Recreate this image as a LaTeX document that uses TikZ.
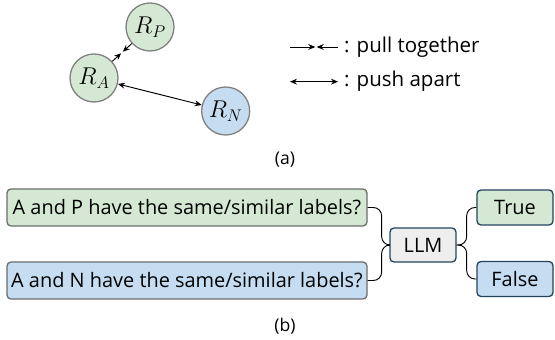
\documentclass[tikz,border=0pt]{standalone}
\usepackage{amsmath}
\usepackage{fontspec}
\usepackage{tikz}
\usepackage{xcolor}
\usetikzlibrary{arrows.meta}
\newfontfamily\labelfont{Open Sans}
\definecolor{simgreen}{HTML}{D5E8D4}
\definecolor{simblue}{HTML}{C6DCF0}
\definecolor{llmgray}{HTML}{EEEEEE}
\definecolor{darkedge}{HTML}{23445D}

\begin{document}
\begin{tikzpicture}[x=1cm,y=1cm,>={Stealth[length=6pt,width=5pt,inset=2pt]},
  rep/.style={circle,draw=gray,line width=1.1pt,minimum size=1.44cm,inner sep=0pt,font=\fontsize{21}{25}\selectfont},
  qbox/.style={draw=gray!85!black,line width=1.1pt,rounded corners=0.12cm,minimum width=10.8cm,minimum height=1.11cm,font=\labelfont\fontsize{17}{20}\selectfont},
  abox/.style={draw=darkedge,line width=1.1pt,rounded corners=0.12cm,minimum height=1.05cm,font=\labelfont\fontsize{17}{20}\selectfont},
  brace/.style={line width=0.8pt,rounded corners=0.25cm},
  txt/.style={font=\labelfont\fontsize{17.5}{20}\selectfont}]
\useasboundingbox (0,0) rectangle (16.65,10.2);
% (a) representations
\node[rep,fill=simgreen] (rp) at (4.5,9.39) {$R_P$};
\node[rep,fill=simgreen] (ra) at (2.82,7.86) {$R_A$};
\node[rep,fill=simblue] (rn) at (6.77,6.87) {$R_N$};
\coordinate (pullmid) at (3.66,8.625);
\draw[->,line width=0.8pt,shorten >=1pt] (rp) -- (pullmid);
\draw[->,line width=0.8pt,shorten >=1pt] (ra) -- (pullmid);
\draw[<->,line width=0.8pt] (ra) -- (rn);
% legend
\coordinate (pl1) at (8.7,8.79);
\coordinate (pl2) at (9.46,8.79);
\coordinate (pr1) at (10.14,8.79);
\coordinate (pr2) at (9.5,8.79);
\draw[->,line width=0.8pt] (pl1) -- (pl2);
\draw[->,line width=0.8pt] (pr1) -- (pr2);
\node[txt,anchor=west] (pulltxt) at (10.2,8.79) {: pull together};
\coordinate (ps1) at (8.7,7.75);
\coordinate (ps2) at (10.14,7.75);
\draw[<->,line width=0.8pt] (ps1) -- (ps2);
\node[txt,anchor=west] (pushtxt) at (10.2,7.75) {: push apart};
\node[txt,font=\labelfont\fontsize{15}{18}\selectfont] (capa) at (8.55,5.4) {(a)};
% (b) LLM judge
\node[qbox,fill=simgreen] (qp) at (5.61,3.975) {A and P have the same/similar labels?};
\node[qbox,fill=simblue] (qn) at (5.61,1.785) {A and N have the same/similar labels?};
\node[abox,fill=llmgray,minimum width=1.98cm,minimum height=1.02cm] (llm) at (12.69,2.85) {LLM};
\node[abox,fill=simgreen,minimum width=2.28cm] (true) at (15.45,3.975) {True};
\node[abox,fill=simblue,minimum width=2.28cm] (false) at (15.45,1.83) {False};
\coordinate (lb) at (11.45,2.85);
\coordinate (rb) at (14.0,2.85);
\draw[brace] (qp.east) -| (lb) -- (llm.west);
\draw[brace] (qn.east) -| (lb) -- (llm.west);
\draw[brace] (llm.east) -- (rb) |- (true.west);
\draw[brace] (llm.east) -- (rb) |- (false.west);
\node[txt,font=\labelfont\fontsize{15}{18}\selectfont] (capb) at (8.55,0.42) {(b)};
\end{tikzpicture}
\end{document}
